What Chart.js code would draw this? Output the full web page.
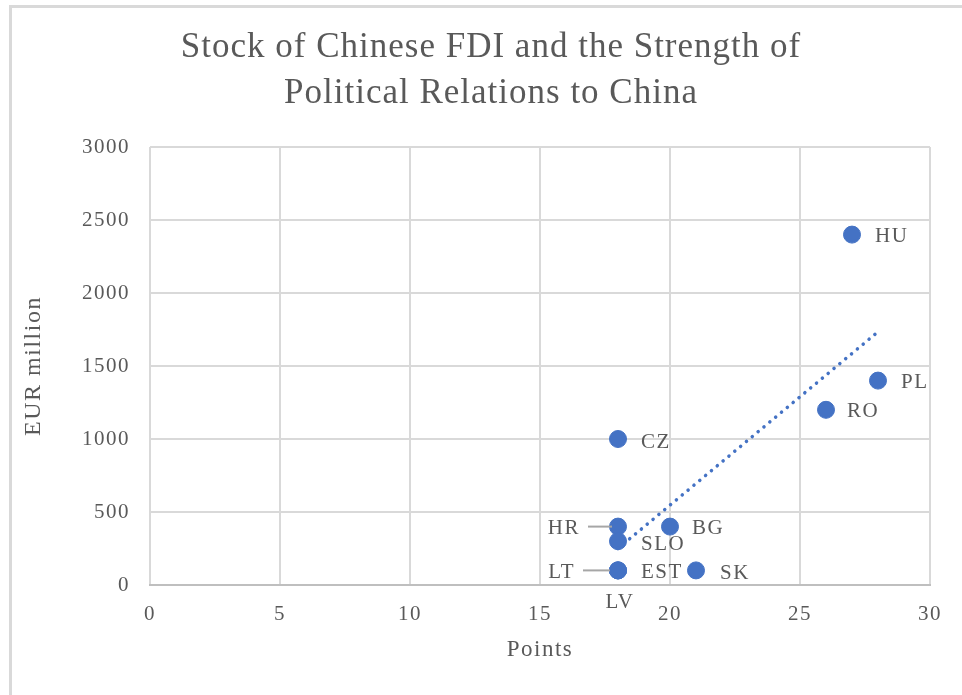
<!DOCTYPE html>
<html>
<head>
<meta charset="utf-8">
<script src="https://cdn.jsdelivr.net/npm/chart.js@4.4.1/dist/chart.umd.min.js"></script>
<style>
  html, body { margin: 0; padding: 0; background: #fff; }
  #wrap { position: relative; width: 962px; height: 695px; }
  #frame { position: absolute; left: 9px; top: 5px; right: 0; bottom: 0;
           border-top: 3px solid #d9d9d9; border-left: 3px solid #d9d9d9; pointer-events: none; }
  canvas { position: absolute; left: 0; top: 0; }
</style>
</head>
<body>
<div id="wrap">
  <canvas id="c" width="962" height="695"></canvas>
  <div id="frame"></div>
</div>
<script>
// Country scores (political relations, points) and Chinese FDI stock (EUR million)
const countries = ['HU', 'PL', 'RO', 'CZ', 'HR', 'BG', 'SLO', 'LT', 'EST', 'LV', 'SK'];
const points    = [27, 28, 26, 18, 18, 20, 18, 18, 18, 18, 21];
const fdiStock  = [2400, 1400, 1200, 1000, 400, 400, 300, 100, 100, 100, 100];

const xTicks = [0, 5, 10, 15, 20, 25, 30];
const yTicks = [0, 500, 1000, 1500, 2000, 2500, 3000];

const titleLines = ['Stock of Chinese FDI and the Strength of', 'Political Relations to China'];

// Label placement: offset from the marker, text alignment, optional leader line
const labelPlacement = {
  HU:  { dx: 23, dy: 2, align: 'left' },
  PL:  { dx: 23, dy: 2, align: 'left' },
  RO:  { dx: 21, dy: 2, align: 'left' },
  CZ:  { dx: 23, dy: 3, align: 'left' },
  HR:  { dx: -38, dy: 2, align: 'right', leader: [-30, -6, 0] },
  BG:  { dx: 22, dy: 2, align: 'left' },
  SLO: { dx: 23, dy: 3, align: 'left' },
  LT:  { dx: -43, dy: 2, align: 'right', leader: [-35, -8, 0] },
  EST: { dx: 23, dy: 2, align: 'left' },
  LV:  { dx: 2, dy: 32, align: 'center' },
  SK:  { dx: 24, dy: 3, align: 'left' }
};

// Least-squares linear trend through the scatter
function linearTrend(xs, ys) {
  const n = xs.length;
  const mx = xs.reduce((a, b) => a + b, 0) / n;
  const my = ys.reduce((a, b) => a + b, 0) / n;
  let sxy = 0, sxx = 0;
  for (let i = 0; i < n; i++) { sxy += (xs[i] - mx) * (ys[i] - my); sxx += (xs[i] - mx) ** 2; }
  const slope = sxy / sxx;
  const icpt = my - slope * mx;
  const x0 = Math.min(...xs), x1 = Math.max(...xs);
  return [{ x: x0, y: icpt + slope * x0 }, { x: x1, y: icpt + slope * x1 }];
}

const serif = "'Liberation Serif', 'Times New Roman', serif";
const textGrey = '#595959';
const blue = '#4472C4';
const tracking = '1.5px';

// Slightly open letter spacing for all chart text
const textTracking = {
  id: 'textTracking',
  beforeUpdate(chart) { chart.ctx.letterSpacing = tracking; },
  beforeLayout(chart) { chart.ctx.letterSpacing = tracking; },
  beforeDraw(chart) { chart.ctx.letterSpacing = tracking; }
};

// Two-line chart title, centred over the framed chart
const chartTitle = {
  id: 'chartTitle',
  afterDraw(chart) {
    const ctx = chart.ctx;
    ctx.save();
    ctx.letterSpacing = '1px';
    ctx.font = '35px ' + serif;
    ctx.fillStyle = textGrey;
    ctx.textAlign = 'center';
    ctx.textBaseline = 'middle';
    const cx = (chart.chartArea.left + chart.width) / 2 - 65;
    titleLines.forEach((t, i) => ctx.fillText(t, cx, 48 + i * 46));
    ctx.restore();
  }
};

const pointLabels = {
  id: 'pointLabels',
  afterDatasetsDraw(chart) {
    const meta = chart.getDatasetMeta(1);
    const ctx = chart.ctx;
    ctx.save();
    ctx.letterSpacing = tracking;
    ctx.font = '21px ' + serif;
    ctx.fillStyle = textGrey;
    ctx.textBaseline = 'middle';
    meta.data.forEach((el, i) => {
      const p = labelPlacement[countries[i]];
      if (p.leader) {
        ctx.strokeStyle = '#a6a6a6';
        ctx.lineWidth = 2;
        ctx.beginPath();
        ctx.moveTo(el.x + p.leader[0], el.y + p.leader[2]);
        ctx.lineTo(el.x + p.leader[1], el.y + p.leader[2]);
        ctx.stroke();
      }
      ctx.textAlign = p.align;
      ctx.fillText(countries[i], el.x + p.dx, el.y + p.dy);
    });
    ctx.restore();
  }
};

new Chart(document.getElementById('c'), {
  data: {
    datasets: [
      {
        type: 'line',
        label: 'Linear trend',
        data: linearTrend(points, fdiStock),
        borderColor: blue,
        borderWidth: 3.5,
        borderDash: [0.1, 7.5],
        borderCapStyle: 'round',
        pointRadius: 0,
        fill: false,
        order: 0
      },
      {
        type: 'scatter',
        label: 'Countries',
        data: points.map((x, i) => ({ x: x, y: fdiStock[i] })),
        backgroundColor: blue,
        borderColor: blue,
        pointRadius: 8.5,
        pointHoverRadius: 8.5,
        order: 1
      }
    ]
  },
  options: {
    responsive: false,
    animation: false,
    layout: { padding: { left: 0, right: 32, top: 147, bottom: 0 } },
    plugins: {
      legend: { display: false },
      tooltip: { enabled: false },
      title: { display: false }
    },
    scales: {
      x: {
        type: 'linear',
        min: 0, max: 30,
        afterBuildTicks(s) { s.ticks = xTicks.map(v => ({ value: v })); },
        afterFit(s) { s.height = 110; },
        grid: { color: '#d9d9d9', lineWidth: 2, drawTicks: false },
        border: { display: true, color: '#bfbfbf', width: 2 },
        ticks: { color: textGrey, font: { family: serif, size: 21 }, padding: 17, maxRotation: 0,
                 callback: v => String(v) },
        title: { display: true, text: 'Points', color: textGrey,
                 font: { family: serif, size: 23 }, padding: { top: 0, bottom: 31 } }
      },
      y: {
        type: 'linear',
        min: 0, max: 3000,
        afterBuildTicks(s) { s.ticks = yTicks.map(v => ({ value: v })); },
        afterFit(s) { s.width = 150; },
        grid: { color: '#d9d9d9', lineWidth: 2, drawTicks: false },
        border: { display: false },
        ticks: { color: textGrey, font: { family: serif, size: 21 }, padding: 20,
                 callback: v => String(v) },
        title: { display: true, text: 'EUR million', color: textGrey,
                 font: { family: serif, size: 24 }, padding: { top: 19, bottom: 0 } }
      }
    }
  },
  plugins: [textTracking, chartTitle, pointLabels]
});
</script>
</body>
</html>
